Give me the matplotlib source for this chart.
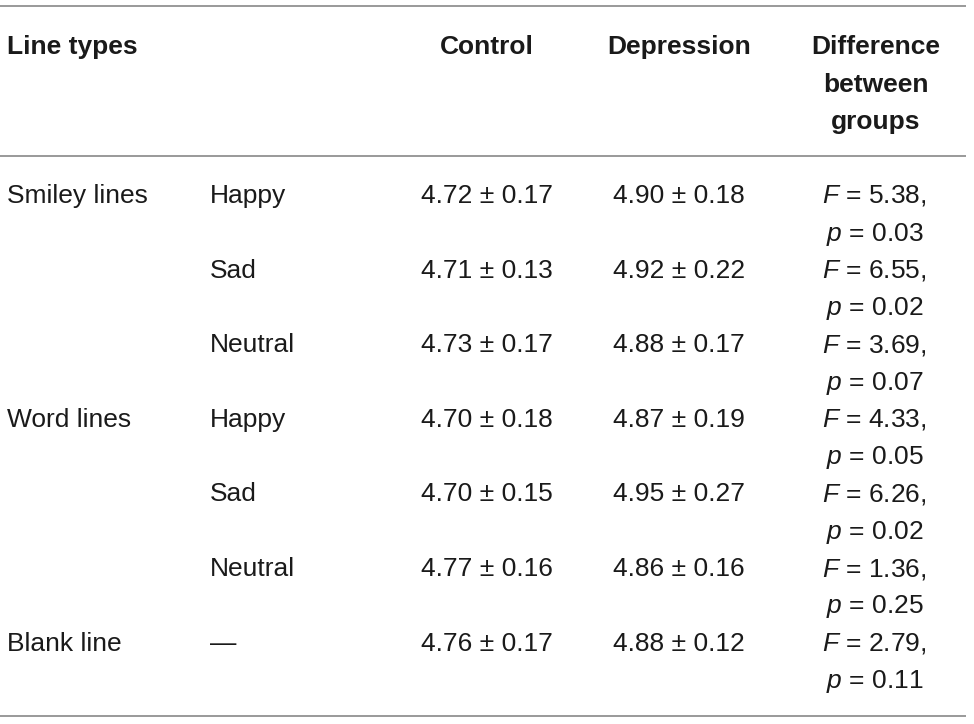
import matplotlib
matplotlib.use('Agg')
import matplotlib.pyplot as plt

plt.rcParams['font.family'] = ['Liberation Sans', 'DejaVu Sans']
plt.rcParams['mathtext.fontset'] = 'custom'
plt.rcParams['mathtext.rm'] = 'Liberation Sans'
plt.rcParams['mathtext.it'] = 'Liberation Sans:italic'

# table data
line_types = ['Smiley lines', '', '', 'Word lines', '', '', 'Blank line']
emotions = ['Happy', 'Sad', 'Neutral', 'Happy', 'Sad', 'Neutral', '\u2014']
control_mean = [4.72, 4.71, 4.73, 4.70, 4.70, 4.77, 4.76]
control_sd = [0.17, 0.13, 0.17, 0.18, 0.15, 0.16, 0.17]
depr_mean = [4.90, 4.92, 4.88, 4.87, 4.95, 4.86, 4.88]
depr_sd = [0.18, 0.22, 0.17, 0.19, 0.27, 0.16, 0.12]
f_values = [5.38, 6.55, 3.69, 4.33, 6.26, 1.36, 2.79]
p_values = [0.03, 0.02, 0.07, 0.05, 0.02, 0.25, 0.11]

W, H = 974, 724
fig = plt.figure(figsize=(W / 100, H / 100), dpi=100)
ax = fig.add_axes([0, 0, 1, 1])
ax.set_xlim(0, W)
ax.set_ylim(H, 0)
ax.axis('off')

txt = '#1a1a1a'
fs = 19

# horizontal rules
for y in [6, 156, 716]:
    ax.plot([0, 966], [y, y], color='#999999', lw=1.4, solid_capstyle='butt')

# header
ax.text(7, 54, 'Line types', fontsize=fs, fontweight='bold', color=txt, va='baseline')
ax.text(487, 54, 'Control', fontsize=fs, fontweight='bold', color=txt, va='baseline', ha='center')
ax.text(679, 54, 'Depression', fontsize=fs, fontweight='bold', color=txt, va='baseline', ha='center')
for i, s in enumerate(['Difference', 'between', 'groups']):
    ax.text(876, 54 + i * 37.5, s, fontsize=fs, fontweight='bold', color=txt,
            va='baseline', ha='center')

# body rows
y0 = 203
step = 74.6
for i in range(len(emotions)):
    y = y0 + i * step
    if line_types[i]:
        ax.text(7, y, line_types[i], fontsize=fs, color=txt, va='baseline')
    ax.text(210, y, emotions[i], fontsize=fs, color=txt, va='baseline')
    ax.text(487, y, '%.2f \u00b1 %.2f' % (control_mean[i], control_sd[i]),
            fontsize=fs, color=txt, va='baseline', ha='center')
    ax.text(679, y, '%.2f \u00b1 %.2f' % (depr_mean[i], depr_sd[i]),
            fontsize=fs, color=txt, va='baseline', ha='center')
    ax.text(874, y, r'$\mathit{F}$ = %.2f,' % f_values[i],
            fontsize=fs, color=txt, va='baseline', ha='center')
    ax.text(875, y + 37.5, r'$\mathit{p}$ = %.2f' % p_values[i],
            fontsize=fs, color=txt, va='baseline', ha='center')

fig.savefig('out.png', dpi=100)
